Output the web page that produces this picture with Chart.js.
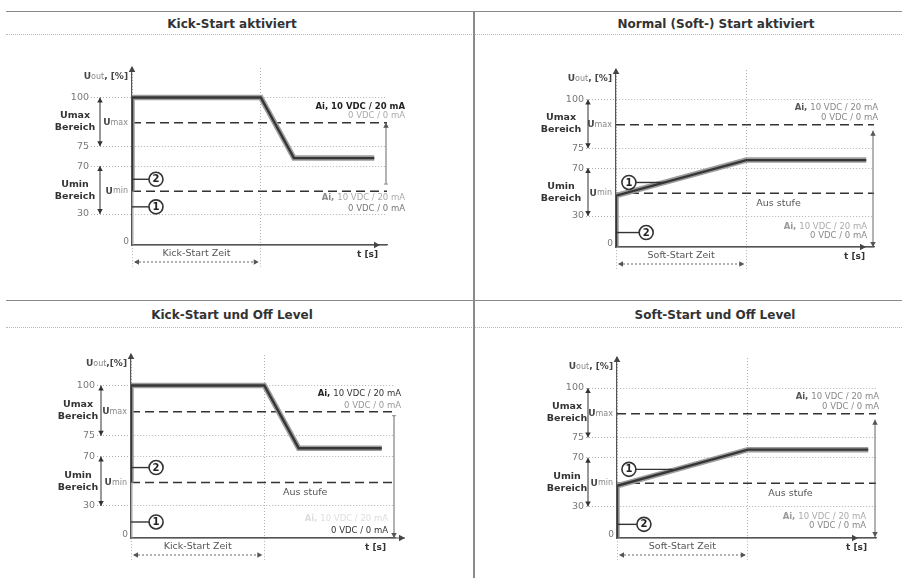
<!DOCTYPE html>
<html lang="de">
<head>
<meta charset="utf-8">
<title>Kick-Start / Soft-Start</title>
<script src="https://cdn.jsdelivr.net/npm/chart.js@4.4.1/dist/chart.umd.min.js"></script>
<style>
  body { margin: 0; background: #fff; }
  #wrap { position: relative; width: 902px; height: 578px; overflow: hidden; font-family: "DejaVu Sans", Verdana, sans-serif; }
  #wrap canvas { position: absolute; left: 0; top: 0; }
  .hline { position: absolute; left: 6px; right: 0; height: 0; border-top: 1.5px solid #8a8a8a; }
  .dots { position: absolute; left: 6px; right: 0; height: 0; border-top: 1px dotted #b8b8b8; }
  .vline { position: absolute; left: 473px; top: 11px; bottom: 0; width: 2px; background: #8a8a8a; }
  .title { position: absolute; font-weight: bold; font-size: 12px; color: #333; transform: translate(-50%, -50%); white-space: nowrap; }
</style>
</head>
<body>
<div id="wrap">
  <div class="hline" style="top:11px"></div>
  <div class="dots" style="top:34px"></div>
  <div class="hline" style="top:300px"></div>
  <div class="dots" style="top:327px"></div>
  <div class="vline"></div>
  <div class="title" id="t0" style="left:232px;top:24px"></div>
  <div class="title" id="t1" style="left:716px;top:24px"></div>
  <div class="title" id="t2" style="left:232px;top:315px"></div>
  <div class="title" id="t3" style="left:715px;top:315px"></div>
  <canvas id="p1" width="902" height="578"></canvas>
  <canvas id="p2" width="902" height="578"></canvas>
  <canvas id="p3" width="902" height="578"></canvas>
  <canvas id="p4" width="902" height="578"></canvas>
</div>
<script>
const FONT = '"DejaVu Sans", Verdana, sans-serif';

// Werte aus dem Diagramm (Schema, y in %)
const titles = ['Kick-Start aktiviert', 'Normal (Soft-) Start aktiviert', 'Kick-Start und Off Level', 'Soft-Start und Off Level'];
const yTicks = [0, 30, 70, 75, 100];
const uMax = 87;
const uMin = 49;
const zeitEnd = 5.05;
const kickX = [0, 0, 5.05, 6.35, 9.5];
const kickY = [49, 100, 100, 72, 72];
const kickBaseX = [0, 0];
const kickBaseY = [0, 49];
const softX = [0, 0, 5.05, 9.7];
const softY = [0, 47, 72, 72];

// y-Achse ist nicht linear gezeichnet: Stuetzstellen Wert -> Anteil
const yBreakVal = [0, 30, 70, 75, 100, 120];
const yBreakPos = [0, 0.21, 0.535, 0.67, 1, 1.2];

function interp(v, from, to) {
  let i = 1;
  while (i < from.length - 1 && v > from[i]) i++;
  const f = (v - from[i - 1]) / (from[i] - from[i - 1]);
  return to[i - 1] + f * (to[i] - to[i - 1]);
}

class BrokenScale extends Chart.LinearScale {
  getPixelForValue(value) {
    return this.getPixelForDecimal(interp(value, yBreakVal, yBreakPos) / 1.2);
  }
  getValueForPixel(pixel) {
    return interp(this.getDecimalForPixel(pixel) * 1.2, yBreakPos, yBreakVal);
  }
}
BrokenScale.id = 'broken';
BrokenScale.defaults = Chart.LinearScale.defaults;
Chart.register(BrokenScale);

titles.forEach((t, i) => { document.getElementById('t' + i).textContent = t; });

function pts(xs, ys) { return xs.map((x, i) => ({ x: x, y: ys[i] })); }

const uoutA = [['U', 1, '#444', 9], ['out', 0, '#888', 8], [', [%]', 1, '#444', 9]];
const uoutB = [['U', 1, '#444', 9], ['out', 0, '#888', 8], [',[%]', 1, '#444', 9]];

const panels = [
  { canvas: 'p1', area: { l: 132, r: 387, t: 68, b: 245 }, kick: true, off: false, tickLen: 41,
    bDx: -32, bTx: -57, uout: uoutA, zeit: 'Kick-Start Zeit', axisEnd: -7,
    upper: { ref: 'umax', dy: [-16, -7], dx: 18, lines: [[['Ai, ', 1, '#222'], ['10 VDC / 20 mA', 1, '#222']], [['0 VDC / 0 mA', 0, '#aaa']]] },
    lower: { ref: 'umin', dy: [7, 18], dx: 18, lines: [[['Ai, ', 1, '#888'], ['10 VDC / 20 mA', 0, '#aaa']], [['0 VDC / 0 mA', 0, '#777']]] },
    ai: { from: 55, to: uMax, headFrom: false, headTo: true },
    circles: [['2', 0.94, 59, 0], ['1', 0.94, 36, 0]] },
  { canvas: 'p2', area: { l: 616, r: 874, t: 70, b: 247 }, kick: false, off: true, ausX: 6.3, tickLen: 30,
    bDx: -28, bTx: -55, uout: uoutA, zeit: 'Soft-Start Zeit', axisEnd: -8,
    upper: { ref: 'umax', dy: [-17, -7], dx: 4, lines: [[['Ai, ', 1, '#555'], ['10 VDC / 20 mA', 0, '#888']], [['0 VDC / 0 mA', 0, '#888']]] },
    lower: { ref: 'axis', dy: [-20, -11], dx: -7, lines: [[['Ai, ', 1, '#999'], ['10 VDC / 20 mA', 0, '#aaa']], [['0 VDC / 0 mA', 0, '#888']]] },
    ai: { from: 0, to: 84, headFrom: true, headTo: true },
    circles: [['1', 0.5, 58, 1.87], ['2', 1.17, 14, 0]] },
  { canvas: 'p3', area: { l: 131, r: 395, t: 355, b: 538 }, kick: true, off: true, ausX: 6.6, tickLen: 34,
    bDx: -30, bTx: -53, uout: uoutB, zeit: 'Kick-Start Zeit', axisEnd: 10,
    upper: { ref: 'umax', dy: [-18, -6], dx: 6, lines: [[['Ai, ', 1, '#222'], ['10 VDC / 20 mA', 0, '#333']], [['0 VDC / 0 mA', 0, '#999']]] },
    lower: { ref: 'axis', dy: [-19, -7], dx: -7, lines: [[['Ai, ', 1, '#ddd'], ['10 VDC / 20 mA', 0, '#ddd']], [['0 VDC / 0 mA', 0, '#333']]] },
    ai: { from: 85, to: 0, headFrom: false, headTo: true },
    circles: [['2', 0.95, 61, 0], ['1', 0.95, 15, 0]] },
  { canvas: 'p4', area: { l: 617, r: 876, t: 358, b: 538 }, kick: false, off: true, ausX: 6.7, tickLen: 31,
    bDx: -29, bTx: -50, uout: uoutA, zeit: 'Soft-Start Zeit', axisEnd: -18,
    upper: { ref: 'umax', dy: [-17, -7], dx: 3, lines: [[['Ai, ', 1, '#555'], ['10 VDC / 20 mA', 0, '#888']], [['0 VDC / 0 mA', 0, '#888']]] },
    lower: { ref: 'axis', dy: [-21, -12], dx: -10, lines: [[['Ai, ', 1, '#999'], ['10 VDC / 20 mA', 0, '#aaa']], [['0 VDC / 0 mA', 0, '#888']]] },
    ai: { from: 84, to: 1, headFrom: true, headTo: true },
    circles: [['1', 0.46, 60.5, 2.16], ['2', 1.04, 13, 0]] }
];

function rich(ctx, segs, x, y, align, size) {
  const font = s => (s[1] ? 'bold ' : '') + (s[3] || size) + 'px ' + FONT;
  let w = 0;
  segs.forEach(s => { ctx.font = font(s); w += ctx.measureText(s[0]).width; });
  let cx = align === 'right' ? x - w : align === 'center' ? x - w / 2 : x;
  ctx.textAlign = 'left';
  ctx.textBaseline = 'middle';
  segs.forEach(s => {
    ctx.font = font(s);
    ctx.fillStyle = s[2];
    ctx.fillText(s[0], cx, y);
    cx += ctx.measureText(s[0]).width;
  });
}

function head(ctx, x, y, dir, s) {
  ctx.beginPath();
  if (dir === 'up') { ctx.moveTo(x, y); ctx.lineTo(x - s * 0.55, y + s); ctx.lineTo(x + s * 0.55, y + s); }
  if (dir === 'down') { ctx.moveTo(x, y); ctx.lineTo(x - s * 0.55, y - s); ctx.lineTo(x + s * 0.55, y - s); }
  if (dir === 'right') { ctx.moveTo(x, y); ctx.lineTo(x - s, y - s * 0.55); ctx.lineTo(x - s, y + s * 0.55); }
  if (dir === 'left') { ctx.moveTo(x, y); ctx.lineTo(x + s, y - s * 0.55); ctx.lineTo(x + s, y + s * 0.55); }
  ctx.closePath();
  ctx.fill();
}

function line(ctx, x1, y1, x2, y2, color, width, dash) {
  ctx.save();
  ctx.strokeStyle = color;
  ctx.lineWidth = width;
  ctx.setLineDash(dash || []);
  ctx.beginPath();
  ctx.moveTo(x1, y1);
  ctx.lineTo(x2, y2);
  ctx.stroke();
  ctx.restore();
}

function makeSchematic(p) {
  return {
    id: 'schematic',
    afterDraw(chart) {
      const ctx = chart.ctx;
      const X = v => chart.scales.x.getPixelForValue(v);
      const Y = v => chart.scales.y.getPixelForValue(v);
      const a = chart.chartArea;
      ctx.save();
      ctx.fillStyle = '#444';

      // Achsenpfeile
      line(ctx, a.left, a.bottom, a.right + Math.max(p.axisEnd, 0), a.bottom, '#555', 1.2);
      head(ctx, a.left, a.top - 2, 'up', 6);
      head(ctx, a.right + p.axisEnd, a.bottom, 'right', 6);

      // Nullpunkt und Achsentitel
      ctx.fillStyle = '#777';
      ctx.font = '9px ' + FONT;
      ctx.textAlign = 'right';
      ctx.textBaseline = 'middle';
      ctx.fillText('0', a.left - 3, a.bottom - 3);
      rich(ctx, p.uout, a.left - 4, Y(114), 'right', 9);
      rich(ctx, [['t [s]', 1, '#333']], a.right - 9, a.bottom + 10, 'right', 9);

      // Umax / Umin Bereiche
      const bx = a.left + p.bDx;
      ctx.fillStyle = '#333';
      line(ctx, bx, Y(100), bx, Y(75), '#333', 1);
      head(ctx, bx, Y(100), 'up', 5);
      head(ctx, bx, Y(75), 'down', 5);
      line(ctx, bx, Y(70), bx, Y(30), '#333', 1);
      head(ctx, bx, Y(70), 'up', 5);
      head(ctx, bx, Y(30), 'down', 5);
      [[uMax, 'Umax', 'max'], [uMin, 'Umin', 'min']].forEach(u => {
        const yy = Y(u[0]);
        rich(ctx, [[u[1], 1, '#333']], a.left + p.bTx, yy - 7, 'center', 9.5);
        rich(ctx, [['Bereich', 1, '#333']], a.left + p.bTx, yy + 5, 'center', 9.5);
        rich(ctx, [['U', 1, '#444', 9], [u[2], 0, '#888', 8]], a.left - 4, yy, 'right', 9);
      });

      // Start-Zeit
      const z0 = X(0), z1 = X(zeitEnd);
      rich(ctx, [[p.zeit, 0, '#555']], (z0 + z1) / 2, a.bottom + 9, 'center', 9.5);
      line(ctx, z0 + 3, a.bottom + 17, z1 - 3, a.bottom + 17, '#666', 1, [2, 2]);
      ctx.fillStyle = '#555';
      head(ctx, z0 + 2, a.bottom + 17, 'left', 5);
      head(ctx, z1 - 2, a.bottom + 17, 'right', 5);

      // Off Level
      if (p.off) rich(ctx, [['Aus stufe', 0, '#555']], X(p.ausX), Y(uMin) + 10, 'center', 9.5);

      // Ai Beschriftungen
      [p.upper, p.lower].forEach(t => {
        const ref = t.ref === 'umax' ? Y(uMax) : t.ref === 'umin' ? Y(uMin) : a.bottom;
        t.lines.forEach((segs, i) => rich(ctx, segs, a.right + t.dx, ref + t.dy[i], 'right', 8.5));
      });
      const ax = X(10) - 1;
      const yf = Y(p.ai.from), yt = Y(p.ai.to);
      line(ctx, ax, yf, ax, yt, '#666', 1);
      ctx.fillStyle = '#555';
      const dirTo = yt < yf ? 'up' : 'down';
      const dirFrom = yt < yf ? 'down' : 'up';
      if (p.ai.headTo) head(ctx, ax, yt, dirTo, 5);
      if (p.ai.headFrom) head(ctx, ax, yf, dirFrom, 5);
      else line(ctx, ax - 2, yf, ax + 2, yf, '#888', 1);

      // Markierungen 1 / 2
      p.circles.forEach(c => {
        const cx = X(c[1]), cy = Y(c[2]), lx = X(c[3]), r = 7;
        if (lx < cx) line(ctx, lx, cy, cx - r, cy, '#333', 1.4);
        else line(ctx, cx + r, cy, lx, cy, '#333', 1.4);
        ctx.beginPath();
        ctx.arc(cx, cy, r, 0, Math.PI * 2);
        ctx.fillStyle = '#fff';
        ctx.fill();
        ctx.lineWidth = 1.6;
        ctx.strokeStyle = '#333';
        ctx.stroke();
        rich(ctx, [[c[0], 1, '#222']], cx, cy + 0.5, 'center', 10);
      });
      ctx.restore();
    }
  };
}

function datasets(p) {
  const main = p.kick ? pts(kickX, kickY) : pts(softX, softY);
  const ds = [
    { data: main, borderColor: '#363636', borderWidth: 2.4, order: 0 },
    { data: main, borderColor: '#9d9d9d', borderWidth: 5.5, order: 1 },
    { data: pts([0, 10], [uMax, uMax]), borderColor: '#333', borderWidth: 1.5, borderDash: [9, 5], order: 3 },
    { data: pts([0, 10], [uMin, uMin]), borderColor: '#333', borderWidth: 1.5, borderDash: [9, 5], order: 3 }
  ];
  if (p.kick) ds.push({ data: pts(kickBaseX, kickBaseY), borderColor: '#a8a8a8', borderWidth: 3, order: 2 });
  return ds;
}

const hideZero = c => (c.tick && c.tick.value === 0 ? 'rgba(0,0,0,0)' : '#b0b0b0');

panels.forEach(p => {
  new Chart(document.getElementById(p.canvas), {
    type: 'line',
    data: { datasets: datasets(p) },
    plugins: [makeSchematic(p)],
    options: {
      responsive: false,
      animation: false,
      events: [],
      layout: { padding: { left: p.area.l - 90, right: 902 - p.area.r, top: p.area.t, bottom: 578 - p.area.b - 30 } },
      plugins: { legend: { display: false }, tooltip: { enabled: false } },
      elements: {
        point: { radius: 0 },
        line: { tension: 0, fill: false, borderJoinStyle: 'miter', borderCapStyle: 'butt' }
      },
      scales: {
        x: {
          type: 'linear', min: 0, max: 10,
          afterFit: s => { s.height = 30; },
          afterBuildTicks: s => { s.ticks = [0, zeitEnd].map(v => ({ value: v })); },
          ticks: { autoSkip: false, callback: () => '' },
          grid: { color: '#b0b0b0', tickColor: '#b0b0b0', tickLength: 22, tickBorderDash: [1, 2] },
          border: { color: '#555', width: 1.2, dash: [1, 2] }
        },
        y: {
          type: 'broken', min: 0, max: 120,
          afterFit: s => { s.width = 90; },
          afterBuildTicks: s => { s.ticks = yTicks.map(v => ({ value: v })); },
          ticks: { autoSkip: false, padding: 2, color: '#777', font: { family: FONT, size: 9.5 },
            callback: v => (v === 0 ? '' : String(v)) },
          grid: { color: hideZero, tickColor: hideZero, tickLength: p.tickLen, tickBorderDash: [1, 2] },
          border: { color: '#555', width: 1.2, dash: [1, 2] }
        }
      }
    }
  });
});
</script>
</body>
</html>
